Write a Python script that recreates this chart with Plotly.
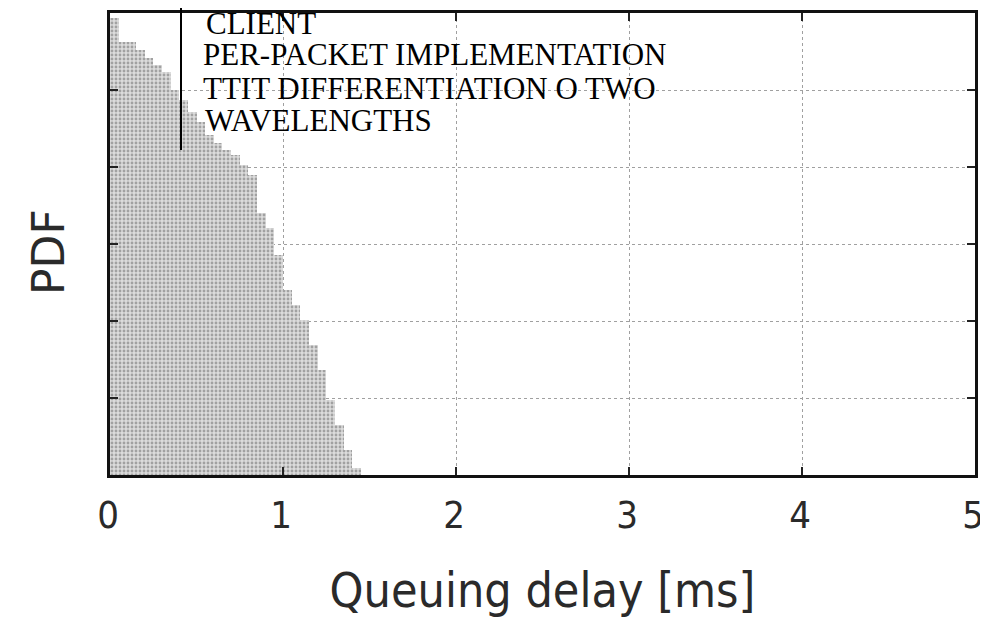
import plotly.graph_objects as go

# Histogram bin centres (queuing delay, ms) and PDF heights (arbitrary units)
delay_ms = [0.025, 0.075, 0.125, 0.175, 0.225, 0.275, 0.325, 0.375, 0.425, 0.475,
            0.525, 0.575, 0.625, 0.675, 0.725, 0.775, 0.825, 0.875, 0.925, 0.975,
            1.025, 1.075, 1.125, 1.175, 1.225, 1.275, 1.325, 1.375, 1.425]
pdf_values = [5.94, 5.62, 5.62, 5.52, 5.42, 5.32, 5.23, 5.00, 4.87, 4.71,
              4.58, 4.42, 4.31, 4.22, 4.15, 4.03, 3.90, 3.40, 3.21, 2.86,
              2.40, 2.21, 2.01, 1.69, 1.36, 0.97, 0.65, 0.32, 0.09]
bin_width = 0.05

x_ticks = [0, 1, 2, 3, 4, 5]
x_tick_labels = ["0", "1", "2", "3", "4", "5"]
legend_lines = ["CLIENT", "PER-PACKET IMPLEMENTATION", "TTIT DIFFERENTIATION O TWO", "WAVELENGTHS"]

fig = go.Figure()
fig.add_trace(go.Bar(
    x=delay_ms, y=pdf_values, width=[bin_width] * len(delay_ms),
    marker=dict(color="#dcdcdc", line=dict(width=0),
                pattern=dict(shape=".", fgcolor="#666666", size=4, solidity=0.4)),
    showlegend=False,
))

# the page body adds an 8 px offset, so the figure is 8 px smaller
OFF = 8
W, H = 988 - OFF, 626 - OFF
ml, mr, mt, mb = 110 - OFF, 13, 13 - OFF, 151

SANS_NARROW = "DejaVu Sans Condensed, Liberation Sans Narrow, Arial Narrow, sans-serif"

axis_common = dict(
    showgrid=True, gridcolor="#a0a0a0", griddash="dot", gridwidth=1,
    showline=True, linecolor="#111111", linewidth=3, mirror="allticks",
    ticks="inside", ticklen=8, tickwidth=2, tickcolor="#222222",
    zeroline=False, automargin=False,
)

fig.update_layout(
    width=W, height=H,
    margin=dict(l=ml, r=mr, t=mt, b=mb),
    paper_bgcolor="white", plot_bgcolor="white",
    bargap=0,
    xaxis=dict(range=[0, 5], tickvals=x_ticks, ticktext=x_tick_labels,
               tickfont=dict(family=SANS_NARROW, size=38, color="#2a2a2a"),
               ticklabelstandoff=4, ticklabelshift=-2,
               title=dict(text="Queuing delay [ms]", standoff=38,
                          font=dict(family=SANS_NARROW, size=48, color="#2a2a2a")),
               **axis_common),
    yaxis=dict(range=[0, 6], dtick=1, showticklabels=False, **axis_common),
)

pw = W - ml - mr
ph = H - mt - mb
plot_left_page = OFF + ml
plot_bottom_page = OFF + H - mb

def page_to_paper(xp, yp):
    return (xp - plot_left_page) / pw, (plot_bottom_page - yp) / ph

# y-axis title as rotated annotation
px_, py_ = page_to_paper(48, 252)
fig.add_annotation(xref="paper", yref="paper", x=px_, y=py_, text="PDF", textangle=-90,
                   showarrow=False, xanchor="center", yanchor="middle",
                   font=dict(family="DejaVu Sans, sans-serif", size=44, color="#2a2a2a"))

# legend-like labels (serif text) and vertical marker line
line_x, line_y0 = page_to_paper(181, 5)
_, line_y1 = page_to_paper(181, 150)
fig.add_shape(type="line", xref="paper", yref="paper",
              x0=line_x, x1=line_x, y0=line_y0, y1=line_y1,
              line=dict(color="black", width=2))

text_y = [23, 54, 88, 121]
text_x = [205, 202, 202, 204]
for txt, xp, yp in zip(legend_lines, text_x, text_y):
    ax, ay = page_to_paper(xp, yp)
    fig.add_annotation(xref="paper", yref="paper", x=ax, y=ay, text=txt,
                       showarrow=False, xanchor="left", yanchor="middle", borderpad=0,
                       font=dict(family="Liberation Serif, Times New Roman, serif", size=31, color="black"))

fig.write_html("out.html")
